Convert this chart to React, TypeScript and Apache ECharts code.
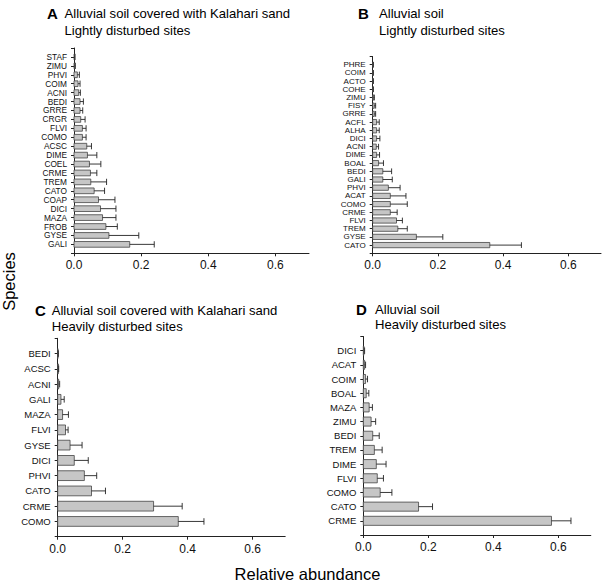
import { useEffect, useRef } from 'react';
import * as echarts from 'echarts';

// Panel A: Alluvial soil covered with Kalahari sand, lightly disturbed (top -> bottom)
const catsA = ['STAF','ZIMU','PHVI','COIM','ACNI','BEDI','GRRE','CRGR','FLVI','COMO','ACSC','DIME','COEL','CRME','TREM','CATO','COAP','DICI','MAZA','FROB','GYSE','GALI'];
const valsA = [0.002,0.002,0.010,0.012,0.014,0.018,0.018,0.020,0.025,0.025,0.038,0.040,0.046,0.049,0.050,0.060,0.073,0.079,0.085,0.095,0.104,0.166];
const errA  = [0.001,0.002,0.006,0.006,0.005,0.010,0.008,0.013,0.011,0.011,0.014,0.028,0.034,0.019,0.047,0.031,0.049,0.046,0.040,0.034,0.089,0.073];

// Panel B: Alluvial soil, lightly disturbed
const catsB = ['PHRE','COIM','ACTO','COHE','ZIMU','FISY','GRRE','ACFL','ALHA','DICI','ACNI','DIME','BOAL','BEDI','GALI','PHVI','ACAT','COMO','CRME','FLVI','TREM','GYSE','CATO'];
const valsB = [0.001,0.001,0.001,0.001,0.003,0.005,0.005,0.012,0.012,0.012,0.011,0.012,0.018,0.031,0.031,0.048,0.054,0.054,0.054,0.073,0.077,0.134,0.359];
const errB  = [0.001,0.001,0.001,0.001,0.002,0.004,0.004,0.008,0.008,0.010,0.007,0.009,0.015,0.027,0.029,0.036,0.048,0.052,0.021,0.018,0.029,0.081,0.097];

// Panel C: Alluvial soil covered with Kalahari sand, heavily disturbed
const catsC = ['BEDI','ACSC','ACNI','GALI','MAZA','FLVI','GYSE','DICI','PHVI','CATO','CRME','COMO'];
const valsC = [0.001,0.002,0.003,0.010,0.015,0.024,0.038,0.051,0.082,0.104,0.295,0.371];
const errC  = [0.001,0.001,0.003,0.010,0.018,0.008,0.037,0.043,0.038,0.043,0.088,0.079];

// Panel D: Alluvial soil, heavily disturbed
const catsD = ['DICI','ACAT','COIM','BOAL','MAZA','ZIMU','BEDI','TREM','DIME','FLVI','COMO','CATO','CRME'];
const valsD = [0.002,0.004,0.007,0.009,0.018,0.024,0.029,0.034,0.040,0.043,0.052,0.170,0.579];
const errD  = [0.002,0.003,0.006,0.008,0.010,0.014,0.020,0.024,0.030,0.019,0.036,0.043,0.060];

const xTicks = [0, 0.2, 0.4, 0.6];

const FONT = "'Liberation Sans', Arial, Helvetica, sans-serif";

type Panel = {
  cats: string[];
  vals: number[];
  errs: number[];
  grid: { left: number; top: number; width: number; height: number };
  labelSize: number;
};

const panels: Panel[] = [
  { cats: catsA, vals: valsA, errs: errA, grid: { left: 74, top: 48, width: 235, height: 205.3 }, labelSize: 8.3 },
  { cats: catsB, vals: valsB, errs: errB, grid: { left: 372.7, top: 56.5, width: 228.3, height: 196.8 }, labelSize: 8 },
  { cats: catsC, vals: valsC, errs: errC, grid: { left: 57.7, top: 338.3, width: 227.5, height: 198.4 }, labelSize: 9.5 },
  { cats: catsD, vals: valsD, errs: errD, grid: { left: 363.3, top: 336.5, width: 227.5, height: 198.5 }, labelSize: 9.5 },
];

const titles = [
  { letter: 'A', lx: 47, tx: 64.5, y1: 13.2, y2: 30 , l1: 'Alluvial soil covered with Kalahari sand', l2: 'Lightly disturbed sites' },
  { letter: 'B', lx: 358, tx: 379, y1: 13.5, y2: 30, l1: 'Alluvial soil', l2: 'Lightly disturbed sites' },
  { letter: 'C', lx: 35, tx: 51.7, y1: 310, y2: 326, l1: 'Alluvial soil covered with Kalahari sand', l2: 'Heavily disturbed sites' },
  { letter: 'D', lx: 356, tx: 375, y1: 309, y2: 324.5, l1: 'Alluvial soil', l2: 'Heavily disturbed sites' },
];

export default function App() {
  const ref = useRef<HTMLDivElement>(null);

  useEffect(() => {
    if (!ref.current) return;
    const chart = echarts.init(ref.current, null, { renderer: 'svg' });

    const grids: any[] = [];
    const xAxes: any[] = [];
    const yAxes: any[] = [];
    const series: any[] = [];

    panels.forEach((p, gi) => {
      const n = p.cats.length;
      grids.push({ ...p.grid, containLabel: false });
      xAxes.push({
        type: 'value',
        gridIndex: gi,
        min: 0,
        max: 0.7,
        interval: 0.2,
        splitLine: { show: false },
        axisLine: { show: true, onZero: false, lineStyle: { color: '#222', width: 1 } },
        axisTick: { show: true, length: 3, lineStyle: { color: '#222' } },
        axisLabel: {
          margin: 6,
          fontSize: 12,
          fontFamily: FONT,
          color: '#111',
          showMaxLabel: false,
          formatter: (v: number) => (xTicks.some((t) => Math.abs(t - v) < 1e-6) ? v.toFixed(1) : ''),
        },
      });
      yAxes.push({
        type: 'value',
        gridIndex: gi,
        min: -1,
        max: n,
        interval: 1,
        splitLine: { show: false },
        axisLine: { show: true, onZero: false, lineStyle: { color: '#222', width: 1 } },
        axisTick: { show: true, length: 3, lineStyle: { color: '#222' } },
        axisLabel: {
          margin: 7,
          fontSize: p.labelSize,
          fontFamily: FONT,
          color: '#111',
          formatter: (v: number) => {
            const k = n - 1 - Math.round(v);
            return p.cats[k] ?? '';
          },
        },
      });
      const data = p.cats.map((c, k) => [p.vals[k], n - 1 - k, p.errs[k]]);
      series.push({
        type: 'custom',
        xAxisIndex: gi,
        yAxisIndex: gi,
        data,
        renderItem: (params: any, api: any) => {
          const v = api.value(0);
          const i = api.value(1);
          const e = api.value(2);
          const p0 = api.coord([0, i]);
          const p1 = api.coord([v, i]);
          const p2 = api.coord([v + e, i]);
          const band = api.size([0, 1])[1];
          const h = band * 0.64;
          const cap = Math.min(6.5, band * 0.7);
          return {
            type: 'group',
            children: [
              {
                type: 'rect',
                shape: { x: p0[0], y: p1[1] - h / 2, width: p1[0] - p0[0], height: h },
                style: { fill: '#c6c6c6', stroke: '#444', lineWidth: 0.8 },
              },
              {
                type: 'line',
                shape: { x1: p1[0], y1: p1[1], x2: p2[0], y2: p2[1] },
                style: { stroke: '#222', lineWidth: 0.9 },
              },
              {
                type: 'line',
                shape: { x1: p2[0], y1: p2[1] - cap / 2, x2: p2[0], y2: p2[1] + cap / 2 },
                style: { stroke: '#222', lineWidth: 0.9 },
              },
            ],
          };
        },
      });
    });

    const graphics: any[] = [];
    titles.forEach((t) => {
      graphics.push({
        type: 'text', x: t.lx, y: t.y1,
        style: { text: t.letter, fontSize: 15, fontWeight: 'bold', fontFamily: FONT, fill: '#000', verticalAlign: 'middle', align: 'left' },
      });
      graphics.push({
        type: 'text', x: t.tx, y: t.y1,
        style: { text: t.l1, fontSize: 13.1, fontFamily: FONT, fill: '#000', verticalAlign: 'middle', align: 'left' },
      });
      graphics.push({
        type: 'text', x: t.tx, y: t.y2,
        style: { text: t.l2, fontSize: 13.1, fontFamily: FONT, fill: '#000', verticalAlign: 'middle', align: 'left' },
      });
    });
    graphics.push({
      type: 'text', x: 9, y: 281.5, rotation: Math.PI / 2,
      style: { text: 'Species', fontSize: 16.5, fontFamily: FONT, fill: '#000', verticalAlign: 'middle', align: 'center' },
    });
    graphics.push({
      type: 'text', x: 307.5, y: 574,
      style: { text: 'Relative abundance', fontSize: 16.5, fontFamily: FONT, fill: '#000', verticalAlign: 'middle', align: 'center' },
    });

    chart.setOption({
      animation: false,
      backgroundColor: '#fff',
      grid: grids,
      xAxis: xAxes,
      yAxis: yAxes,
      series,
      graphic: graphics,
    });

    return () => chart.dispose();
  }, []);

  return (
    <div
      ref={ref}
      style={{ position: 'absolute', left: 0, top: 0, width: 602, height: 583, background: '#fff' }}
    />
  );
}
